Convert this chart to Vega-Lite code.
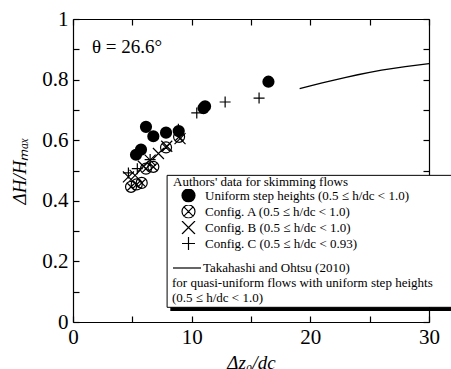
{
  "$schema": "https://vega.github.io/schema/vega-lite/v6.json",
  "width": 356,
  "height": 303,
  "autosize": {"type": "none"},
  "padding": {"left": 73, "top": 19, "right": 22, "bottom": 47},
  "background": "white",
  "config": {
    "view": {"stroke": null},
    "font": "Liberation Serif",
    "axis": {
      "domainColor": "black", "domainWidth": 1.2,
      "tickColor": "black", "tickSize": 6, "tickWidth": 1.2,
      "labelFont": "Liberation Serif", "labelFontSize": 21, "labelColor": "black",
      "titleFont": "Liberation Serif", "titleFontSize": 19, "titleFontWeight": "normal", "titleColor": "black",
      "grid": false, "labelFlush": false, "labelOverlap": false
    },
    "legend": {
      "labelFont": "Liberation Serif", "labelFontSize": 13, "labelColor": "black", "labelLimit": 500,
      "titleFont": "Liberation Serif", "titleFontSize": 13, "titleFontWeight": "normal", "titleColor": "black", "titleLimit": 500,
      "symbolStrokeWidth": 1.2, "padding": 0
    }
  },
  "datasets": {
    "points": [
      {"series": "Uniform step heights (0.5 ≤ h/dc < 1.0)", "x": 5.31, "y": 0.552},
      {"series": "Uniform step heights (0.5 ≤ h/dc < 1.0)", "x": 5.73, "y": 0.569},
      {"series": "Uniform step heights (0.5 ≤ h/dc < 1.0)", "x": 6.15, "y": 0.644},
      {"series": "Uniform step heights (0.5 ≤ h/dc < 1.0)", "x": 6.77, "y": 0.613},
      {"series": "Uniform step heights (0.5 ≤ h/dc < 1.0)", "x": 7.84, "y": 0.625},
      {"series": "Uniform step heights (0.5 ≤ h/dc < 1.0)", "x": 8.91, "y": 0.630},
      {"series": "Uniform step heights (0.5 ≤ h/dc < 1.0)", "x": 11.0, "y": 0.706},
      {"series": "Uniform step heights (0.5 ≤ h/dc < 1.0)", "x": 11.13, "y": 0.712},
      {"series": "Uniform step heights (0.5 ≤ h/dc < 1.0)", "x": 16.47, "y": 0.793},
      {"series": "Config. A (0.5 ≤ h/dc < 1.0)", "x": 4.89, "y": 0.446},
      {"series": "Config. A (0.5 ≤ h/dc < 1.0)", "x": 5.37, "y": 0.454},
      {"series": "Config. A (0.5 ≤ h/dc < 1.0)", "x": 5.79, "y": 0.459},
      {"series": "Config. A (0.5 ≤ h/dc < 1.0)", "x": 6.15, "y": 0.506},
      {"series": "Config. A (0.5 ≤ h/dc < 1.0)", "x": 6.77, "y": 0.512},
      {"series": "Config. A (0.5 ≤ h/dc < 1.0)", "x": 7.84, "y": 0.576},
      {"series": "Config. A (0.5 ≤ h/dc < 1.0)", "x": 8.94, "y": 0.611},
      {"series": "Config. B (0.5 ≤ h/dc < 1.0)", "x": 4.67, "y": 0.479},
      {"series": "Config. B (0.5 ≤ h/dc < 1.0)", "x": 5.23, "y": 0.484},
      {"series": "Config. B (0.5 ≤ h/dc < 1.0)", "x": 5.93, "y": 0.514},
      {"series": "Config. B (0.5 ≤ h/dc < 1.0)", "x": 6.5, "y": 0.534},
      {"series": "Config. B (0.5 ≤ h/dc < 1.0)", "x": 7.2, "y": 0.556},
      {"series": "Config. B (0.5 ≤ h/dc < 1.0)", "x": 7.9, "y": 0.58},
      {"series": "Config. B (0.5 ≤ h/dc < 1.0)", "x": 9.02, "y": 0.605},
      {"series": "Config. C (0.5 ≤ h/dc < 0.93)", "x": 4.67, "y": 0.492},
      {"series": "Config. C (0.5 ≤ h/dc < 0.93)", "x": 5.42, "y": 0.506},
      {"series": "Config. C (0.5 ≤ h/dc < 0.93)", "x": 6.5, "y": 0.536},
      {"series": "Config. C (0.5 ≤ h/dc < 0.93)", "x": 8.88, "y": 0.636},
      {"series": "Config. C (0.5 ≤ h/dc < 0.93)", "x": 10.43, "y": 0.69},
      {"series": "Config. C (0.5 ≤ h/dc < 0.93)", "x": 12.82, "y": 0.726},
      {"series": "Config. C (0.5 ≤ h/dc < 0.93)", "x": 15.68, "y": 0.739}
    ],
    "curve": [
      {"model": "Takahashi and Ohtsu (2010)", "x": 19.1, "y": 0.770},
      {"model": "Takahashi and Ohtsu (2010)", "x": 20, "y": 0.779},
      {"model": "Takahashi and Ohtsu (2010)", "x": 21, "y": 0.789},
      {"model": "Takahashi and Ohtsu (2010)", "x": 22, "y": 0.798},
      {"model": "Takahashi and Ohtsu (2010)", "x": 23, "y": 0.807},
      {"model": "Takahashi and Ohtsu (2010)", "x": 24, "y": 0.816},
      {"model": "Takahashi and Ohtsu (2010)", "x": 25, "y": 0.824},
      {"model": "Takahashi and Ohtsu (2010)", "x": 26, "y": 0.831},
      {"model": "Takahashi and Ohtsu (2010)", "x": 27, "y": 0.837},
      {"model": "Takahashi and Ohtsu (2010)", "x": 28, "y": 0.843},
      {"model": "Takahashi and Ohtsu (2010)", "x": 29, "y": 0.848},
      {"model": "Takahashi and Ohtsu (2010)", "x": 30, "y": 0.853}
    ],
    "note": [{"label": "θ = 26.6°"}],
    "box": [{"part": "legend frame"}]
  },
  "layer": [
    {
      "data": {"name": "points"},
      "mark": {"type": "point", "stroke": "black", "fill": "transparent", "strokeWidth": 1.2, "size": 121, "opacity": 1},
      "encoding": {
        "x": {
          "field": "x", "type": "quantitative",
          "scale": {"domain": [0, 30], "nice": false, "zero": false},
          "axis": {
            "orient": "bottom", "values": [0, 10, 20, 30], "ticks": false, "format": "d",
            "labelPadding": 4, "labelFont": "Liberation Serif", "labelFontSize": 21,
            "title": "Δz₀/dc", "titleFont": "Liberation Serif", "titleFontStyle": "italic", "titleY": 40, "titleBaseline": "middle"
          }
        },
        "y": {
          "field": "y", "type": "quantitative",
          "scale": {"domain": [0, 1], "nice": false, "zero": false},
          "axis": {
            "orient": "left", "values": [0, 0.2, 0.4, 0.6, 0.8, 1], "ticks": false, "format": "~g",
            "labelPadding": 5, "labelFont": "Liberation Serif", "labelFontSize": 21,
            "title": "ΔH/Hₘₐₓ", "titleFont": "Liberation Serif", "titleFontStyle": "italic", "titleX": -54, "titleY": 151.5, "titleBaseline": "middle", "titleAngle": -90
          }
        },
        "shape": {
          "field": "series", "type": "nominal",
          "scale": {
            "domain": ["Uniform step heights (0.5 ≤ h/dc < 1.0)", "Config. A (0.5 ≤ h/dc < 1.0)", "Config. B (0.5 ≤ h/dc < 1.0)", "Config. C (0.5 ≤ h/dc < 0.93)"],
            "range": [
              "M-1,0A1,1 0 1,0 1,0A1,1 0 1,0 -1,0ZM-0.8,0A0.8,0.8 0 1,0 0.8,0A0.8,0.8 0 1,0 -0.8,0ZM-0.6,0A0.6,0.6 0 1,0 0.6,0A0.6,0.6 0 1,0 -0.6,0ZM-0.4,0A0.4,0.4 0 1,0 0.4,0A0.4,0.4 0 1,0 -0.4,0ZM-0.2,0A0.2,0.2 0 1,0 0.2,0A0.2,0.2 0 1,0 -0.2,0ZM-0.9,0A0.9,0.9 0 1,0 0.9,0A0.9,0.9 0 1,0 -0.9,0ZM-0.7,0A0.7,0.7 0 1,0 0.7,0A0.7,0.7 0 1,0 -0.7,0ZM-0.5,0A0.5,0.5 0 1,0 0.5,0A0.5,0.5 0 1,0 -0.5,0ZM-0.3,0A0.3,0.3 0 1,0 0.3,0A0.3,0.3 0 1,0 -0.3,0ZM-0.1,0A0.1,0.1 0 1,0 0.1,0A0.1,0.1 0 1,0 -0.1,0Z",
              "M-1,0A1,1 0 1,0 1,0A1,1 0 1,0 -1,0ZM-0.7071,-0.7071L0.7071,0.7071M-0.7071,0.7071L0.7071,-0.7071",
              "M-1,-1L1,1M-1,1L1,-1",
              "M-1,0L1,0M0,-1L0,1"
            ]
          },
          "legend": {
            "orient": "none", "legendX": 100, "legendY": 157,
            "title": "Authors' data for skimming flows",
            "symbolSize": 169, "symbolOffset": 8, "labelOffset": 9, "rowPadding": 2, "titlePadding": 0, "clipHeight": 13,
            "encode": {"symbols": {"stroke": {"value": "black"}, "strokeWidth": {"value": 1.2}, "fill": {"value": "transparent"}}}
          }
        }
      }
    },
    {
      "data": {"name": "curve"},
      "mark": {"type": "line", "strokeWidth": 1.3},
      "encoding": {
        "x": {
          "field": "x", "type": "quantitative",
          "scale": {"domain": [0, 30], "nice": false, "zero": false},
          "axis": {"orient": "top", "values": [0, 10, 20, 30], "ticks": false, "labels": false, "title": null}
        },
        "y": {
          "field": "y", "type": "quantitative",
          "scale": {"domain": [0, 1], "nice": false, "zero": false},
          "axis": {"orient": "right", "values": [0, 0.2, 0.4, 0.6, 0.8, 1], "ticks": false, "labels": false, "title": null}
        },
        "stroke": {
          "field": "model", "type": "nominal",
          "scale": {"range": ["black"]},
          "legend": {
            "orient": "none", "legendX": 99, "legendY": 234,
            "title": ["for quasi-uniform flows with uniform step heights", "(0.5 ≤ h/dc < 1.0)"],
            "titleOrient": "bottom", "titleAnchor": "start", "titleLineHeight": 15, "titlePadding": 2,
            "symbolType": "stroke", "symbolSize": 784, "labelOffset": 1
          }
        }
      }
    },
    {
      "data": {"name": "box"},
      "mark": {"type": "rect", "fill": "white", "stroke": "black", "strokeWidth": 1},
      "encoding": {
        "x": {"datum": 7.93, "type": "quantitative", "scale": {"domain": [0, 30], "nice": false, "zero": false},
              "axis": {"orient": "bottom", "offset": -6, "domain": false, "labels": false, "ticks": true, "tickSize": 6, "title": null, "values": [0, 5, 10, 15, 20, 25, 30]}},
        "x2": {"datum": 33},
        "y": {"datum": 0.484, "type": "quantitative", "scale": {"domain": [0, 1], "nice": false, "zero": false},
              "axis": {"orient": "left", "offset": -6, "domain": false, "labels": false, "ticks": true, "tickSize": 6, "title": null, "values": [0, 0.1, 0.2, 0.3, 0.4, 0.5, 0.6, 0.7, 0.8, 0.9, 1]}},
        "y2": {"datum": 0.0485}
      }
    },
    {
      "data": {"name": "box"},
      "mark": {"type": "rect", "fill": "black"},
      "encoding": {
        "x": {"datum": 8.2, "type": "quantitative", "scale": {"domain": [0, 30], "nice": false, "zero": false},
              "axis": {"orient": "top", "offset": -6, "domain": false, "labels": false, "ticks": true, "tickSize": 6, "title": null, "values": [0, 5, 10, 15, 20, 25, 30]}},
        "x2": {"datum": 33},
        "y": {"datum": 0.0485, "type": "quantitative", "scale": {"domain": [0, 1], "nice": false, "zero": false},
              "axis": {"orient": "right", "offset": -6, "domain": false, "labels": false, "ticks": true, "tickSize": 6, "title": null, "values": [0, 0.1, 0.2, 0.3, 0.4, 0.5, 0.6, 0.7, 0.8, 0.9, 1]}},
        "y2": {"datum": 0.036}
      }
    },
    {
      "data": {"name": "note"},
      "mark": {"type": "text", "font": "Liberation Serif", "fontSize": 19, "align": "left", "baseline": "middle", "color": "black"},
      "encoding": {
        "text": {"field": "label"},
        "x": {"datum": 1.6, "type": "quantitative", "scale": {"domain": [0, 30], "nice": false, "zero": false}, "axis": null},
        "y": {"datum": 0.907, "type": "quantitative", "scale": {"domain": [0, 1], "nice": false, "zero": false}, "axis": null}
      }
    }
  ],
  "resolve": {"axis": {"x": "independent", "y": "independent"}}
}
